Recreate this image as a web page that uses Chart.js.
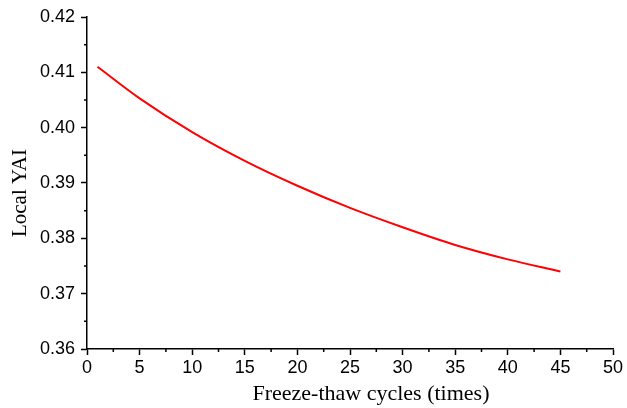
<!DOCTYPE html>
<html>
<head>
<meta charset="utf-8">
<script src="https://cdn.jsdelivr.net/npm/chart.js@4.4.1/dist/chart.umd.min.js"></script>
<style>
  body { margin: 0; background: #fff; }
  #wrap { width: 627px; height: 408px; position: relative; }
</style>
</head>
<body>
<div id="wrap"><canvas id="yaiChart"></canvas></div>
<script>
// values
const cycles = [1, 5, 10, 15, 20, 25, 30, 35, 40, 45];
const localYAI = [0.4110, 0.4053, 0.3992, 0.3940, 0.3895, 0.3855, 0.3820, 0.3788, 0.3762, 0.3740];
const xTicks = [0, 5, 10, 15, 20, 25, 30, 35, 40, 45, 50];
const yTicks = [0.36, 0.37, 0.38, 0.39, 0.40, 0.41, 0.42];
const xTitle = 'Freeze-thaw cycles (times)';
const yTitle = 'Local YAI';

// small ticks between the labelled ones, plus the axis titles
// (titles sit a little off-centre in the original, so they are drawn here)
const extras = {
  id: 'extras',
  afterDraw(chart) {
    let ctx = chart.ctx;
    let xs = chart.scales.x;
    let ys = chart.scales.y;
    ctx.save();
    ctx.strokeStyle = '#000';
    ctx.lineWidth = 1.5;
    ctx.beginPath();
    for (let i = 0; i < xTicks.length - 1; i++) {
      let px = xs.getPixelForValue((xTicks[i] + xTicks[i + 1]) / 2);
      ctx.moveTo(px, ys.bottom);
      ctx.lineTo(px, ys.bottom + 3);
    }
    for (let i = 0; i < yTicks.length - 1; i++) {
      let py = ys.getPixelForValue((yTicks[i] + yTicks[i + 1]) / 2);
      ctx.moveTo(xs.left, py);
      ctx.lineTo(xs.left - 3, py);
    }
    ctx.stroke();

    ctx.fillStyle = '#000';
    ctx.textAlign = 'center';
    ctx.textBaseline = 'alphabetic';
    ctx.font = '22px "Liberation Serif", "Times New Roman", serif';
    ctx.fillText(xTitle, (xs.left + xs.right) / 2 + 21, 400);

    ctx.font = '21px "Liberation Serif", "Times New Roman", serif';
    ctx.translate(26, (ys.top + ys.bottom) / 2 + 10);
    ctx.rotate(-Math.PI / 2);
    ctx.fillText(yTitle, 0, 0);
    ctx.restore();
  }
};

let ctx = document.getElementById('yaiChart').getContext('2d');
new Chart(ctx, {
  type: 'line',
  data: {
    datasets: [{
      data: cycles.map((c, i) => ({ x: c, y: localYAI[i] })),
      borderColor: '#ff0000',
      borderWidth: 2,
      pointRadius: 0,
      fill: false,
      cubicInterpolationMode: 'monotone'
    }]
  },
  options: {
    responsive: true,
    maintainAspectRatio: false,
    animation: false,
    layout: { padding: { left: 0, right: 14, top: 17, bottom: 0 } },
    plugins: { legend: { display: false }, tooltip: { enabled: false } },
    scales: {
      x: {
        type: 'linear',
        min: 0,
        max: 50,
        afterFit: scale => { scale.height = 59; },
        afterBuildTicks: scale => { scale.ticks = xTicks.map(v => ({ value: v })); },
        border: { display: true, color: '#000', width: 1.5 },
        grid: { drawOnChartArea: false, drawTicks: true, tickLength: 6, tickColor: '#000', tickWidth: 1.5 },
        ticks: {
          color: '#000',
          padding: 2,
          maxRotation: 0,
          font: { family: 'Liberation Sans, Arial', size: 18 },
          callback: v => String(v)
        },
        title: { display: false }
      },
      y: {
        min: 0.36,
        max: 0.42,
        afterFit: scale => { scale.width = 87; },
        afterBuildTicks: scale => { scale.ticks = yTicks.map(v => ({ value: v })); },
        border: { display: true, color: '#000', width: 1.5 },
        grid: { drawOnChartArea: false, drawTicks: true, tickLength: 6, tickColor: '#000', tickWidth: 1.5 },
        ticks: {
          color: '#000',
          padding: 6,
          font: { family: 'Liberation Sans, Arial', size: 18 },
          callback: v => v.toFixed(2)
        },
        title: { display: false }
      }
    }
  },
  plugins: [extras]
});
</script>
</body>
</html>
